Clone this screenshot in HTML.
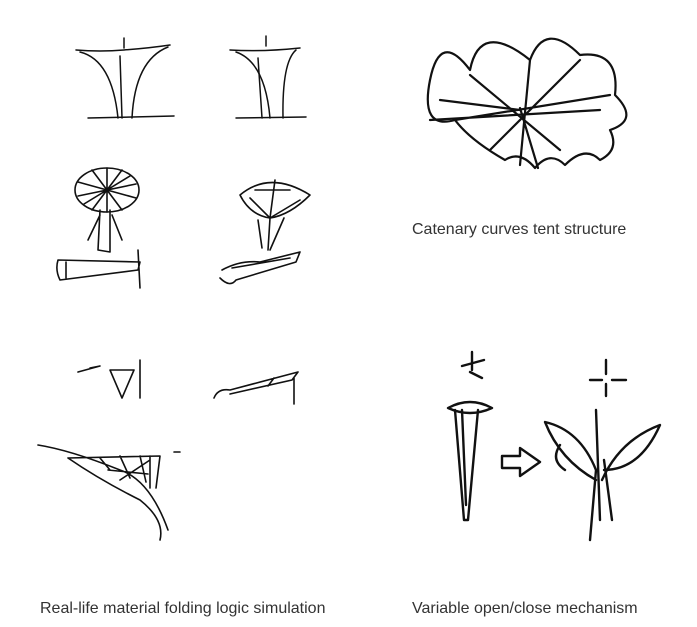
<!DOCTYPE html>
<html><head><meta charset="utf-8"><style>
html,body{margin:0;padding:0;background:#fff;}
body{width:697px;height:627px;position:relative;overflow:hidden;font-family:"Liberation Sans",sans-serif;}
.t{position:absolute;font-size:16px;color:#333;white-space:nowrap;}
svg{position:absolute;left:0;top:0;}
</style></head><body>
<svg width="697" height="627" viewBox="0 0 697 627" fill="none" stroke="#111" stroke-linecap="round" stroke-linejoin="round">
<g stroke-width="1.5">
<path d="M76 50 Q100 52 124 50 Q150 48 170 45"/>
<path d="M80 52 Q112 60 118 118"/><path d="M168 47 Q135 60 132 118"/>
<path d="M120 56 L122 118"/><path d="M88 118 L174 116"/><path d="M124 38 L124 48"/>
<path d="M230 50 Q262 52 300 48"/>
<path d="M236 52 Q265 62 270 118"/><path d="M296 50 Q282 62 283 118"/>
<path d="M258 58 L262 118"/><path d="M236 118 L306 117"/><path d="M266 36 L266 46"/>
</g>
<g stroke-width="1.6">
<ellipse cx="107" cy="190" rx="32" ry="22"/>
<path d="M78 182 L136 198 M84 204 L130 176 M107 168 L107 212 M78 196 L136 184 M92 170 L122 210 M92 210 L122 170"/>
<path d="M100 210 L98 250 M110 210 L110 252 M100 215 L88 240 M112 215 L122 240 M98 250 L110 252"/>
<path d="M240 195 Q270 170 310 195 Q290 215 270 218 Q250 215 240 195Z"/>
<path d="M250 198 L270 218 L300 200 M270 218 L275 180 M255 190 L290 190"/>
<path d="M270 218 L268 250 M258 220 L262 248 M284 218 L270 250"/>
</g>
<g stroke-width="1.6">
<path d="M58 260 Q55 270 60 280 L138 270 L140 262 Z M66 262 L66 278 M138 250 L140 288"/>
<path d="M222 270 Q240 260 260 262 L300 252 L296 262 L236 280 Q230 288 220 278 M232 268 L290 258"/>
<path d="M78 372 L100 366 L90 368 M110 370 L122 398 L134 370 Z M140 360 L140 398"/>
<path d="M214 398 Q218 388 230 390 L298 372 L292 380 L230 394 M268 386 L274 378 M294 378 L294 404"/>
<path d="M38 445 Q70 450 120 470 Q150 480 168 530 M68 458 Q100 480 140 500 Q165 520 160 540 M68 458 L160 456 L156 488 M100 458 L110 470 M120 456 L130 478 M140 456 L146 482 M150 456 L150 488 M120 480 L150 460 M108 470 L148 474 M174 452 L180 452"/>
</g>
<g stroke-width="2.2">
<path d="M430 80 Q440 30 470 70 Q480 20 530 60 Q545 20 580 55 Q620 50 615 95 Q640 120 610 130 Q620 150 600 160 Q585 145 565 165 Q550 150 535 168 Q520 150 505 160 Q470 140 455 120 Q420 130 430 80Z"/>
<path d="M430 120 L600 110 M470 75 L560 150 M530 60 L520 165 M580 60 L490 150 M610 95 L455 120 M520 108 L538 168 M440 100 L520 110"/>
</g>
<g stroke-width="2.4">
<path d="M448 408 Q470 396 492 408 Q470 418 448 408Z M455 410 L464 520 L468 520 L478 410 M462 410 L466 505"/>
<path d="M502 456 L520 456 L520 448 L540 462 L520 476 L520 468 L502 468 Z"/>
<path d="M596 410 L600 520 M590 540 L596 470 Q580 430 545 422 Q560 460 596 480 M602 480 Q620 440 660 425 Q640 470 604 470 M560 445 Q550 460 565 470 M612 520 L604 460"/>
<path d="M472 352 L472 370 M462 366 L484 360 M482 378 L470 372 M606 360 L606 374 M590 380 L602 380 M612 380 L626 380 M606 384 L606 396"/>
</g>
</svg>
<div class="t" style="left:412px;top:221px;">Catenary curves tent structure</div>
<div class="t" style="left:40px;top:600px;">Real-life material folding logic simulation</div>
<div class="t" style="left:412px;top:600px;">Variable open/close mechanism</div>
</body></html>
